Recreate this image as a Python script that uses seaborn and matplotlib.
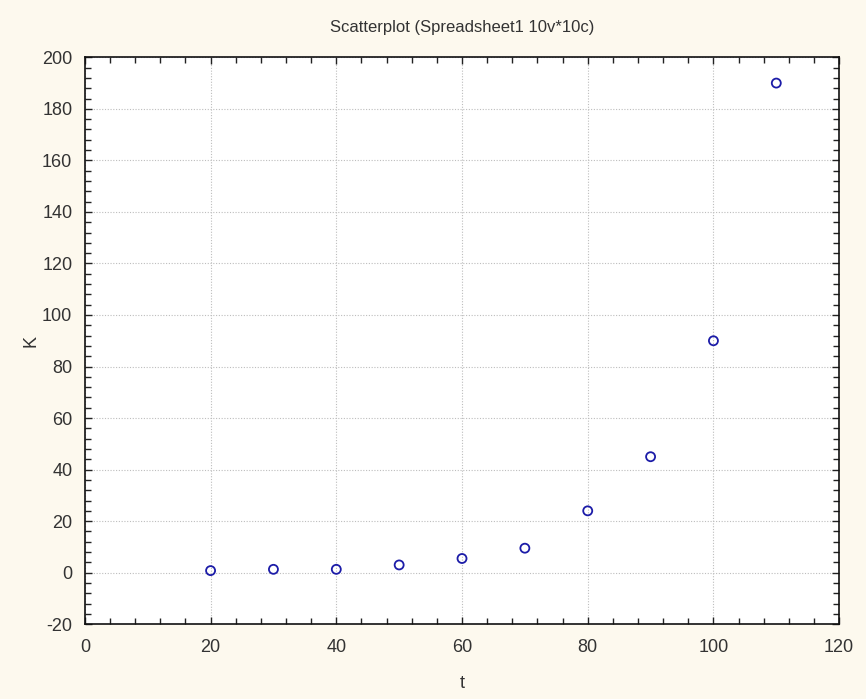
import matplotlib
matplotlib.use("Agg")
import matplotlib.pyplot as plt
import seaborn as sns
import pandas as pd
from matplotlib.ticker import MultipleLocator

# data
t_values = [20, 30, 40, 50, 60, 70, 80, 90, 100, 110]
k_values = [0.8, 1.3, 1.3, 3.0, 5.5, 9.5, 24.0, 45.0, 90.0, 190.0]

df = pd.DataFrame({"t": t_values, "K": k_values})

sns.set_theme(style="white")
plt.rcParams['font.family'] = ['Liberation Sans', 'DejaVu Sans']
plt.rcParams['axes.unicode_minus'] = False

bg = "#fdf9ee"
fig = plt.figure(figsize=(8.66, 6.99), dpi=100, facecolor=bg)
ax = fig.add_axes([0.098, 0.107, 0.871, 0.811])
ax.set_facecolor("white")

sns.scatterplot(data=df, x="t", y="K", ax=ax, marker="o", s=42,
                facecolors="none", edgecolor="#1c1ca8", linewidth=1.3, zorder=3)

ax.set_xlim(0, 120)
ax.set_ylim(-20, 200)
ax.xaxis.set_major_locator(MultipleLocator(20))
ax.xaxis.set_minor_locator(MultipleLocator(4))
ax.yaxis.set_major_locator(MultipleLocator(20))
ax.yaxis.set_minor_locator(MultipleLocator(4))

ax.grid(True, which="major", linestyle=(0, (1, 1.5)), color="#bdbdbd", linewidth=0.8)
ax.tick_params(which="both", direction="in", top=True, right=True, bottom=True, left=True,
               colors="#222222", labelcolor="#333333", labelsize=13)
ax.tick_params(which="major", length=5, width=1)
ax.tick_params(which="minor", length=4, width=1)
ax.tick_params(axis="x", pad=11)
ax.tick_params(axis="y", pad=9)

for sp in ax.spines.values():
    sp.set_color("#111111")
    sp.set_linewidth(1.2)

ax.set_xlabel("t", fontsize=13, color="#333333")
ax.set_ylabel("K", fontsize=13, color="#333333")
ax.xaxis.set_label_coords(0.5, -0.09)
ax.yaxis.set_label_coords(-0.06, 0.5)
ax.set_title("Scatterplot (Spreadsheet1 10v*10c)", fontsize=12, color="#333333", pad=18)

fig.savefig("out.png", dpi=100, facecolor=bg)
